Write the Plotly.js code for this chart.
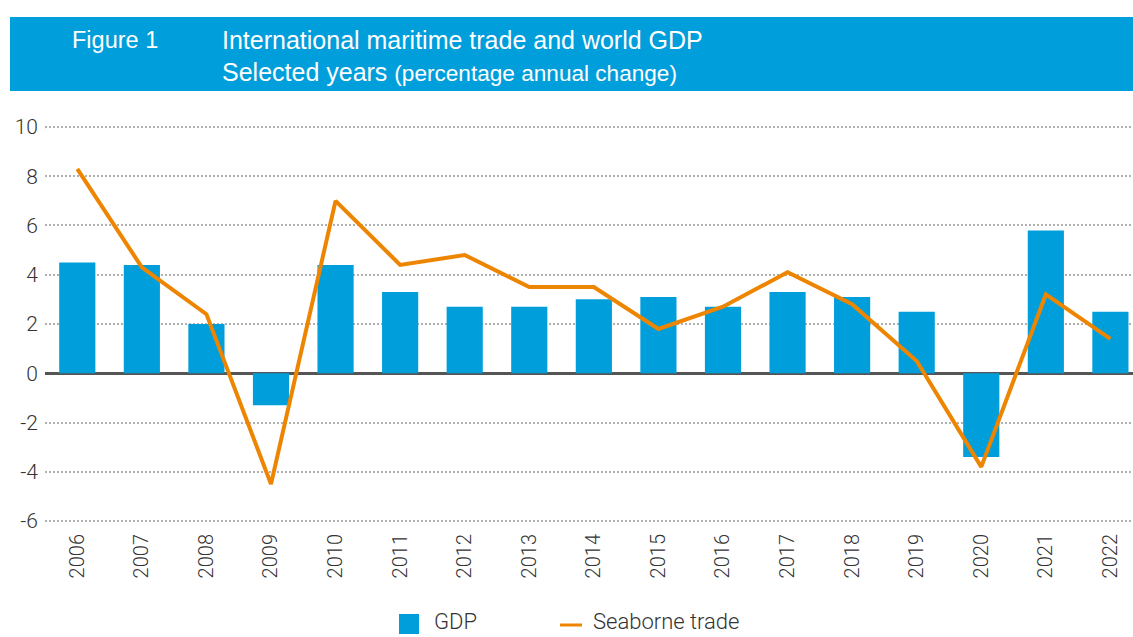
<!DOCTYPE html>
<html><head><meta charset="utf-8">
<script src="https://cdn.plot.ly/plotly-3.0.1.min.js"></script>
<style>html,body{margin:0;padding:0;background:#fff;}#chart{width:1133px;height:637px;}</style>
</head><body><div id="chart"></div>
<script>
const years = ['2006','2007','2008','2009','2010','2011','2012','2013','2014','2015','2016','2017','2018','2019','2020','2021','2022'];
const gdp = [4.5, 4.4, 2.0, -1.3, 4.4, 3.3, 2.7, 2.7, 3.0, 3.1, 2.7, 3.3, 3.1, 2.5, -3.4, 5.8, 2.5];
const seaborne = [8.3, 4.3, 2.4, -4.5, 7.0, 4.4, 4.8, 3.5, 3.5, 1.8, 2.7, 4.1, 2.8, 0.5, -3.8, 3.2, 1.4];
const yTicks = [-6, -4, -2, 0, 2, 4, 6, 8, 10];
const yTickText = ['-6', '-4', '-2', '0', '2', '4', '6', '8', '10'];
const seriesNames = ['GDP', 'Seaborne trade'];
const figureLabel = 'Figure 1';
const titleLine1 = 'International maritime trade and world GDP';
const titleLine2a = 'Selected years';
const titleLine2b = '(percentage annual change)';

const BLUE = '#009EDB', ORANGE = '#EE8500';
const W = 1133, H = 637, M = {l:45, r:0, t:122, b:111};
const PW = W - M.l - M.r, PH = H - M.t - M.b;
const px = x => (x - M.l) / PW;
const py = y => (H - M.b - y) / PH;

const traces = [
  {type:'bar', x: years, y: gdp, name: seriesNames[0], marker:{color: BLUE}, width: 0.56, showlegend:false, hoverinfo:'skip'},
  {type:'scatter', mode:'lines', x: years, y: seaborne, name: seriesNames[1], line:{color: ORANGE, width: 4}, showlegend:false, hoverinfo:'skip'}
];

const layout = {
  width: W, height: H, margin: M, paper_bgcolor:'#fff', plot_bgcolor:'#fff',
  showlegend:false,
  xaxis:{type:'category', range:[-0.5, 16.35], tickangle:-90, showgrid:false, showline:false, ticks:'', zeroline:false,
         ticklabelstandoff:3,
         tickfont:{family:'Roboto, sans-serif', size:20, color:'#333333', weight:300}},
  yaxis:{range:[-6.2, 10.2], tickvals: yTicks, ticktext: yTickText, showline:false, ticks:'', gridcolor:'#b0b0b0', gridwidth:2, griddash:'2px,2px',
         zeroline:true, zerolinecolor:'#555555', zerolinewidth:3, ticklabelstandoff:6,
         tickfont:{family:'Roboto, sans-serif', size:21, color:'#333333', weight:300}},
  shapes:[
    {type:'rect', xref:'paper', yref:'paper', x0:px(10), x1:px(1133), y0:py(91), y1:py(17), fillcolor:BLUE, line:{width:0}, layer:'below'},
    {type:'rect', xref:'paper', yref:'paper', x0:px(399), x1:px(419), y0:py(634), y1:py(614), fillcolor:BLUE, line:{width:0}},
    {type:'line', xref:'paper', yref:'paper', x0:px(560), x1:px(582), y0:py(625), y1:py(625), line:{color:ORANGE, width:3}}
  ],
  annotations:[
    {xref:'paper', yref:'paper', x:px(70), y:py(40), xanchor:'left', yanchor:'middle', showarrow:false, text:figureLabel,
     font:{family:'Liberation Sans, Arial, sans-serif', size:23.5, color:'#ffffff'}},
    {xref:'paper', yref:'paper', x:px(220), y:py(40), xanchor:'left', yanchor:'middle', showarrow:false, text:titleLine1,
     font:{family:'Liberation Sans, Arial, sans-serif', size:25, color:'#ffffff'}},
    {xref:'paper', yref:'paper', x:px(220), y:py(72), xanchor:'left', yanchor:'middle', showarrow:false,
     text: titleLine2a + ' <span style="font-size:22.6px">' + titleLine2b + '</span>',
     font:{family:'Liberation Sans, Arial, sans-serif', size:25, color:'#ffffff'}},
    {xref:'paper', yref:'paper', x:px(432), y:py(621), xanchor:'left', yanchor:'middle', showarrow:false, text:seriesNames[0],
     font:{family:'Roboto, sans-serif', size:22, color:'#333333', weight:300}},
    {xref:'paper', yref:'paper', x:px(591), y:py(621), xanchor:'left', yanchor:'middle', showarrow:false, text:seriesNames[1],
     font:{family:'Roboto, sans-serif', size:22, color:'#333333', weight:300}}
  ]
};
Plotly.newPlot('chart', traces, layout, {staticPlot:true, displayModeBar:false});
</script></body></html>
